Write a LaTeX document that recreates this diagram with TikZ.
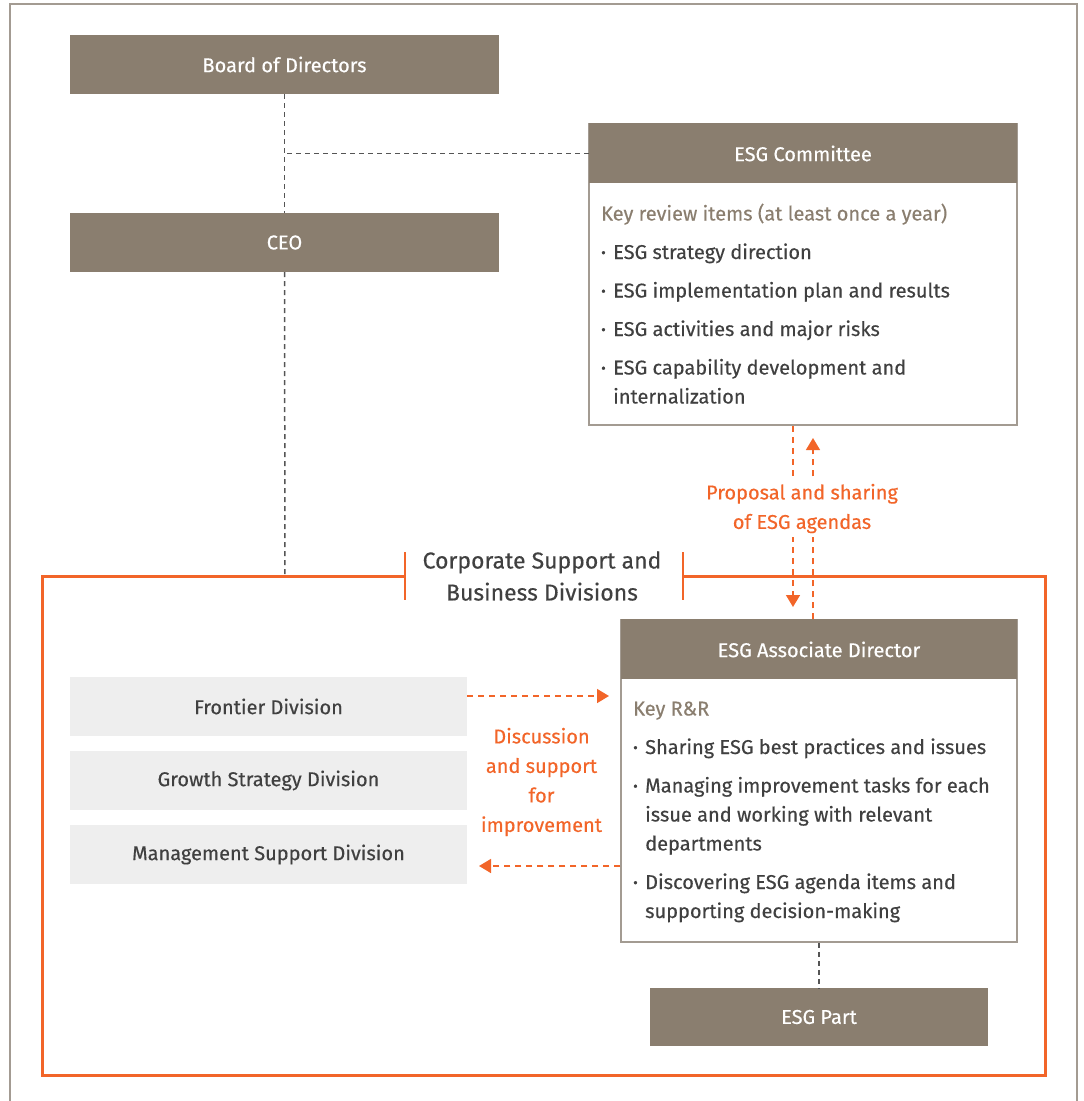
\documentclass[tikz,border=0pt]{standalone}
\usepackage{fontspec}
\setmainfont{Fira Sans}[FakeBold=0.35]
\usetikzlibrary{arrows.meta}
\definecolor{esgBrown}{RGB}{138,126,111}
\definecolor{esgOrange}{RGB}{242,101,41}
\definecolor{esgPale}{RGB}{238,238,238}
\definecolor{esgText}{RGB}{64,64,64}
\definecolor{esgLine}{RGB}{163,155,146}
\definecolor{esgDash}{RGB}{85,85,85}
\newcommand{\bul}{\makebox[12pt][l]{\fontsize{14}{14}\selectfont\raisebox{1.5pt}{•}}}
\newcommand{\bodyfont}{\fontsize{20}{29}\selectfont}

\begin{document}
\begin{tikzpicture}[x=1pt, y=-1pt,
	head/.style = {fill=esgBrown, text=white, inner sep=0pt, font=\bodyfont},
	divbox/.style = {fill=esgPale, text=esgText, inner sep=0pt, minimum width=397pt, minimum height=59pt, font=\bodyfont},
	frame/.style = {draw=esgLine, line width=1.5pt, inner sep=0pt},
	items/.style = {anchor=north west, inner sep=0pt, text=esgText, font=\bodyfont},
	tie/.style = {draw=esgDash, line width=1.5pt, dash pattern=on 5pt off 4pt},
	flow/.style = {draw=esgOrange, line width=1.5pt, dash pattern=on 6pt off 5pt, -{Triangle[width=14pt, length=12pt]}},
	note/.style = {text=esgOrange, align=center, fill=white, inner sep=4pt, font=\fontsize{20}{29.5}\selectfont}]
	\useasboundingbox (0,0) rectangle (1084,1101);
	% outer frame
	\draw [esgLine, line width=1.5pt] (10,1101) -- (10,4) -- (1077,4) -- (1077,1101);
	%%%%%%%%%%%%%
	\node [head, minimum width=429pt, minimum height=59pt] (brd) at (284.5, 64.5) {Board of Directors};
	\node [head, minimum width=429pt, minimum height=59pt] (ceo) at (284.5, 242.5) {CEO};
	%%%%%%%%%%%%%
	\node [frame, minimum width=428pt, minimum height=301pt] (com) at (803, 274.5) {};
	\node [head, minimum width=428pt, minimum height=60pt, anchor=north] (comHead) at (com.north) {ESG Committee};
	\node [items] (comText) at (601, 200) {\begin{tabular}{@{}l@{}l@{}}
		\multicolumn{2}{@{}l@{}}{\color{esgBrown}Key review items (at least once a year)}\\[9.5pt]
		\bul & ESG strategy direction\\[9.5pt]
		\bul & ESG implementation plan and results\\[9.5pt]
		\bul & ESG activities and major risks\\[9.5pt]
		\bul & ESG capability development and\\
		     & internalization
	\end{tabular}};
	%%%%%%%%%%%%%
	\node [frame, minimum width=396pt, minimum height=322pt] (asd) at (819, 781) {};
	\node [head, minimum width=396pt, minimum height=60pt, anchor=north] (asdHead) at (asd.north) {ESG Associate Director};
	\node [items] (asdText) at (633, 695) {\begin{tabular}{@{}l@{}l@{}}
		\multicolumn{2}{@{}l@{}}{\color{esgBrown}Key R\&R}\\[9.5pt]
		\bul & Sharing ESG best practices and issues\\[9.5pt]
		\bul & Managing improvement tasks for each\\
		     & issue and working with relevant\\
		     & departments\\[9.5pt]
		\bul & Discovering ESG agenda items and\\
		     & supporting decision-making
	\end{tabular}};
	\node [head, minimum width=338pt, minimum height=58pt] (part) at (819, 1017) {ESG Part};
	%%%%%%%%%%%%%
	\node [divbox] (fro) at (268.5, 706.5) {Frontier Division};
	\node [divbox] (gro) at (268.5, 780.5) {Growth Strategy Division};
	\node [divbox] (mgt) at (268.5, 854.5) {Management Support Division};
	%%%%%%%%%%%%%
	\node [text=esgText, align=center, inner sep=0pt, font=\fontsize{23}{32}\selectfont] (corp) at (542, 576) {Corporate Support and\\Business Divisions};
	\draw [esgOrange, line width=3pt] (405,576) -- (42,576) -- (42,1075) -- (1045,1075) -- (1045,576) -- (683,576);
	\draw [esgOrange, line width=2.5pt] (405,552) -- (405,600); \draw [esgOrange, line width=2.5pt] (683,552) -- (683,600);
	%%%%%%%%%%%%%
	\coordinate (frameTop) at (285, 576);
	\draw [tie] (brd.south) to (ceo.north); \draw [tie] (ceo.south) to (frameTop);
	\draw [tie] (comHead.west) to (comHead.west -| brd.south);
	\draw [tie] (asd.south) to (part.north);
	%%%%%%%%%%%%%
	\coordinate (dnTip) at (793, 607); \coordinate (upTip) at (813, 438);
	\coordinate (rTip) at (609, 696); \coordinate (lTip) at (479, 866);
	\draw [flow] (com.south -| dnTip) to (dnTip);
	\draw [flow] (asd.north -| upTip) to (upTip);
	\draw [flow] (fro.east |- rTip) to (rTip);
	\draw [flow] (asd.west |- lTip) to (lTip);
	\node [note] (prop) at (802, 508.5) {Proposal and sharing\\of ESG agendas};
	\node [note, fill=none] (disc) at (541.5, 782) {Discussion\\and support\\for\\improvement};
\end{tikzpicture}
\end{document}
